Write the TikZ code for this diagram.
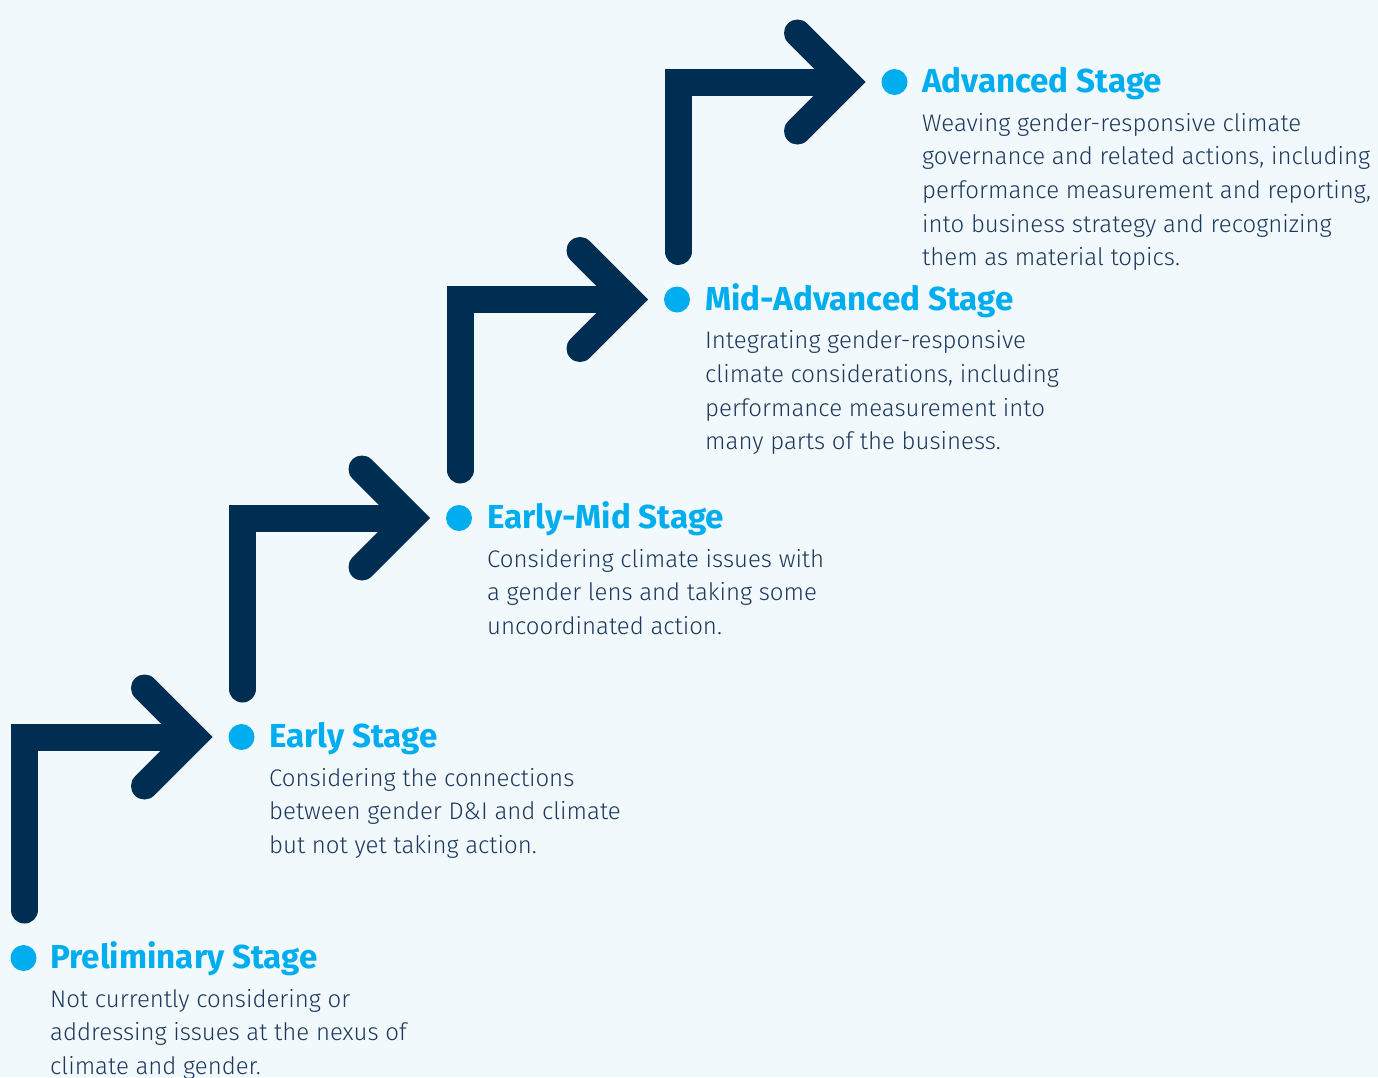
\documentclass[tikz,border=0pt]{standalone}
\usepackage{fontspec}
\usetikzlibrary{calc}
\newfontfamily\bodyf{Fira Sans Light}
\newfontfamily\titlef{Fira Sans Bold}
\definecolor{bgc}{RGB}{242,249,253}
\definecolor{navy}{RGB}{0,45,82}
\definecolor{cyanc}{RGB}{0,174,239}
\definecolor{txt}{RGB}{28,56,92}
\tikzset{
  dotc/.style={circle,fill=cyanc,minimum size=26pt,inner sep=0pt},
  title/.style={anchor=base west,inner sep=0pt,text=cyanc,font=\titlef\fontsize{33.2}{36}\selectfont},
  body/.style={anchor=base west,inner sep=0pt,text=txt,align=left,font=\bodyf\fontsize{24}{33.6}\selectfont},
  stemline/.style={draw=navy,line width=27pt,line cap=round,line join=miter},
  chev/.style={draw=navy,line width=27pt,line cap=round,line join=miter},
}
\begin{document}
\begin{tikzpicture}[x=1pt,y=-1pt]
\fill[bgc] (0,0) rectangle (1378,1077);
\useasboundingbox (0,0) rectangle (1378,1077);
% dots
\node[dotc] (d1) at (23.5,958) {};
\node[dotc] (d2) at (241.5,737) {};
\node[dotc] (d3) at (459,518) {};
\node[dotc] (d4) at (677,299.5) {};
\node[dotc] (d5) at (894.5,82) {};
% arrows
\foreach \a/\b in {d1/d2,d2/d3,d3/d4,d4/d5}{
  \draw[stemline] ($(\a)+(1,-48)$) |- ($(\b)+(-54,0)$);
  \draw[chev] ($(\b)+(-97,-49)$) -- ($(\b)+(-48,0)$) -- ($(\b)+(-97,49)$);
}
% titles
\node[title] (t1) at ($(d1)+(26.5,10.5)$) {Preliminary Stage};
\node[title] (t2) at ($(d2)+(27.5,10.5)$) {Early Stage};
\node[title] (t3) at ($(d3)+(28,10.5)$) {Early-Mid Stage};
\node[title] (t4) at ($(d4)+(28,10.5)$) {Mid-Advanced Stage};
\node[title] (t5) at ($(d5)+(27.5,10.5)$) {Advanced Stage};
% bodies (anchor = baseline of last line)
\node[body] (b1) at ($(t1.base west)+(0,106)$) {Not currently considering or\\addressing issues at the nexus of\\climate and gender.};
\node[body] (b2) at ($(t2.base west)+(0,106)$) {Considering the connections\\between gender D\&I and climate\\but not yet taking action.};
\node[body] (b3) at ($(t3.base west)+(0,106)$) {Considering climate issues with\\a gender lens and taking some\\uncoordinated action.};
\node[body] (b4) at ($(t4.base west)+(0,139.6)$) {Integrating gender-responsive\\climate considerations, including\\performance measurement into\\many parts of the business.};
\node[body] (b5) at ($(t5.base west)+(0,173.2)$) {Weaving gender-responsive climate\\governance and related actions, including\\performance measurement and reporting,\\into business strategy and recognizing\\them as material topics.};
\end{tikzpicture}
\end{document}
